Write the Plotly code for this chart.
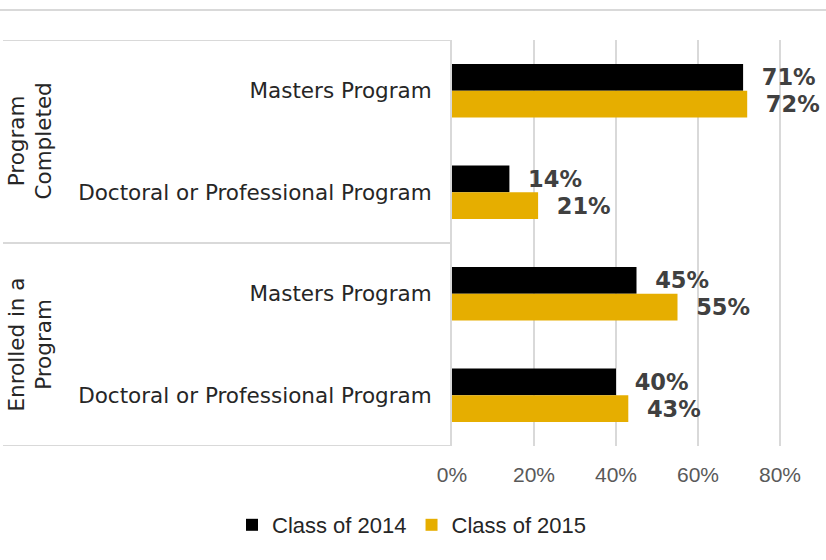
import plotly.graph_objects as go

# ---------- Data ----------
groups = ["Program<br>Completed", "Enrolled in a<br>Program"]
categories = ["Masters Program", "Doctoral or Professional Program",
              "Masters Program", "Doctoral or Professional Program"]
class_2014 = [0.71, 0.14, 0.45, 0.40]
class_2015 = [0.72, 0.21, 0.55, 0.43]
x_ticks = [0, 0.2, 0.4, 0.6, 0.8]

# ---------- Layout constants ----------
W, H = 826, 560
L, R, T, B = 452, 0, 40, 114
PW = W - L - R
PH = H - T - B
GRID = "#d9d9d9"


def px_x(px):
    return (px - L) / PW


def px_y(px):
    return (H - B - px) / PH


ypos = list(range(len(categories)))
lbl = lambda vals: ["\u00a0\u00a0{:.0%}".format(v) for v in vals]
label_font = dict(family="DejaVu Sans", size=22.5, color="#404040", weight="bold")

fig = go.Figure()
fig.add_trace(go.Bar(y=ypos, x=class_2014, orientation="h", name="Class of 2014",
                     marker=dict(color="#000000", line=dict(width=0)),
                     text=lbl(class_2014), textposition="outside", cliponaxis=False,
                     textfont=label_font))
fig.add_trace(go.Bar(y=ypos, x=class_2015, orientation="h", name="Class of 2015",
                     marker=dict(color="#E6AE00", line=dict(width=0)),
                     text=lbl(class_2015), textposition="outside", cliponaxis=False,
                     textfont=label_font))

# box lines on the left (category separators) and top rule
for yb in [-0.5, 1.5, 3.5]:
    fig.add_shape(type="line", xref="paper", yref="y", x0=px_x(3), x1=0, y0=yb, y1=yb,
                  line=dict(color=GRID, width=2))
fig.add_shape(type="line", xref="paper", yref="paper", x0=px_x(0), x1=1,
              y0=px_y(10), y1=px_y(10), line=dict(color=GRID, width=2))

# group labels
for i, g in enumerate(groups):
    fig.add_annotation(text=g, xref="paper", yref="y", x=px_x(30), y=2 * i + 0.5,
                       textangle=-90, showarrow=False, xanchor="center", yanchor="middle",
                       font=dict(family="DejaVu Sans", size=21.5, color="#262626"))

fig.update_layout(
    width=W, height=H,
    margin=dict(l=L, r=R, t=T, b=B),
    paper_bgcolor="white", plot_bgcolor="white",
    barmode="group", bargap=0.474, bargroupgap=0,
    showlegend=True,
    legend=dict(orientation="h", x=px_x(412), y=px_y(525), xanchor="center", yanchor="middle",
                font=dict(family="Liberation Sans", size=22, color="#262626")),
    xaxis=dict(range=[0, PW / 82 * 0.2], tickvals=x_ticks, tickformat=".0%",
               showgrid=True, gridcolor=GRID, gridwidth=2, zeroline=False,
               ticks="", ticklabelstandoff=14,
               tickfont=dict(family="Liberation Sans", size=21, color="#595959")),
    yaxis=dict(range=[3.5, -0.5], tickvals=ypos, ticktext=categories,
               showgrid=False, zeroline=False, showline=True, linecolor=GRID, linewidth=2,
               ticks="", ticklabelstandoff=14,
               tickfont=dict(family="DejaVu Sans", size=21.5, color="#262626")),
)

fig.write_html("out.html", config={"displayModeBar": False},
               post_script="document.body.style.margin='0';")
